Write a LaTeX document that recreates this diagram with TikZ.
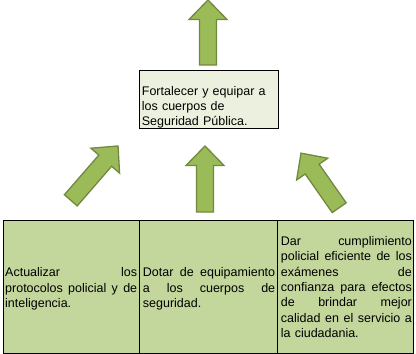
\documentclass[tikz,border=0pt]{standalone}
\usepackage{fontspec}
\setmainfont{Liberation Sans}
\definecolor{arrowfill}{HTML}{9BBB59}
\definecolor{arrowline}{HTML}{71893F}
\definecolor{cellfill}{HTML}{C3D69B}
\definecolor{goalfill}{HTML}{EBF1DE}
\newcommand{\jl}[2]{\leavevmode\hbox to #1{#2}}
\newcommand{\jsp}{\hspace{0pt plus 1fill}}
\newcommand{\greenarrow}[4]{%
  \begin{scope}[shift={(#1,#2)},rotate=#3]
    \draw[blockarrow] (-8.5,0) -- (-8.5,19.5-#4) -- (-19,19.5-#4) -- (0,-#4)
      -- (19,19.5-#4) -- (8.5,19.5-#4) -- (8.5,0) -- cycle;
  \end{scope}}
\tikzset{
  blockarrow/.style={fill=arrowfill,draw=arrowline,line width=1.3pt,line join=miter},
  cellbox/.style={draw=black,fill=cellfill,line width=0.9pt,inner sep=0,minimum height=133pt},
  goalbox/.style={draw=black,fill=goalfill,line width=0.9pt,inner sep=0},
  bodytext/.style={inner sep=0,anchor=north west,align=left,
    font=\fontsize{12.5}{15.33}\selectfont},
}
\begin{document}
\begin{tikzpicture}[x=1pt,y=-1pt]
\useasboundingbox (0,0) rectangle (416,354);
% arrows
\greenarrow{208}{65}{0}{65}
\greenarrow{205}{212}{0}{66}
\greenarrow{70.8}{200.3}{-41}{72}
\greenarrow{339.2}{207.7}{35}{66.6}
% goal box
\node[goalbox,minimum width=139pt,minimum height=58pt] (goal) at (208.5,99) {};
\node[bodytext,text width=135pt] (goaltext) at (141.7,84.27)
  {\strut Fortalecer y equipar a\\ los cuerpos de\\ Seguridad Pública.};
% table
\node[cellbox,minimum width=136pt] (c1) at (71,286.5) {};
\node[cellbox,minimum width=138pt] (c2) at (208,286.5) {};
\node[cellbox,minimum width=136pt] (c3) at (345,286.5) {};
\node[bodytext,text width=132pt] (t1) at (5,265.97)
  {\strut\jl{132pt}{Actualizar \jsp los}\\
   \jl{132pt}{protocolos \jsp policial \jsp y \jsp de}\\
   inteligencia.\strut};
\node[bodytext,text width=132.3pt] (t2) at (142.7,265.97)
  {\strut\jl{132.3pt}{Dotar \jsp de \jsp equipamiento}\\
   \jl{132.3pt}{a \jsp los \jsp cuerpos \jsp de}\\
   seguridad.\strut};
\node[bodytext,text width=131pt] (t3) at (280.7,234.57)
  {\strut\jl{131pt}{Dar \jsp cumplimiento}\\
   \jl{131pt}{policial \jsp eficiente \jsp de \jsp los}\\
   \jl{131pt}{exámenes \jsp de}\\
   \jl{131pt}{confianza \jsp para \jsp efectos}\\
   \jl{131pt}{de \jsp brindar \jsp mejor}\\
   \jl{131pt}{calidad \jsp en \jsp el \jsp servicio \jsp a}\\
   la ciudadania.\strut};
\end{tikzpicture}
\end{document}
